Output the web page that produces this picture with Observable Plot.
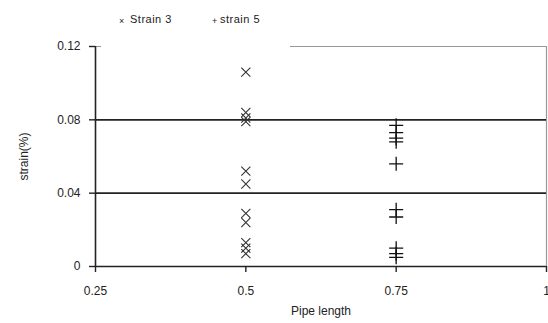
<!DOCTYPE html>
<html>
<head>
<meta charset="utf-8">
<script src="https://cdn.jsdelivr.net/npm/d3@7"></script>
<script src="https://cdn.jsdelivr.net/npm/@observablehq/plot@0.6"></script>
<style>
  html, body { margin: 0; padding: 0; background: #fff; }
  #wrap { position: relative; width: 548px; height: 323px; font-family: "Liberation Sans", Arial, sans-serif; }
  #legend { position: absolute; left: 101px; top: 0; width: 189px; height: 49px; background: #fff;
            font-size: 11px; color: #222; }
  #legend span { position: absolute; top: 13px; white-space: nowrap; letter-spacing: 0.5px; }
  #legend .sym { font-size: 9px; top: 16px; }
</style>
</head>
<body>
<div id="wrap"></div>
<script>
// Data
const series = ["Strain 3", "strain 5"];
const pipeLength = [0.5, 0.75];
const strain3 = [0.106, 0.084, 0.081, 0.079, 0.052, 0.045, 0.029, 0.024, 0.013, 0.010, 0.007];
const strain5 = [0.077, 0.073, 0.070, 0.068, 0.056, 0.031, 0.027, 0.010, 0.007, 0.005];
const xTicks = [0.25, 0.5, 0.75, 1];
const xTickLabels = ["0.25", "0.5", "0.75", "1"];
const yTicks = [0, 0.04, 0.08, 0.12];
const yTickLabels = ["0", "0.04", "0.08", "0.12"];
const gridValues = [0.04, 0.08];

const rows3 = strain3.map(v => ({x: pipeLength[0], y: v, s: series[0]}));
const rows5 = strain5.map(v => ({x: pipeLength[1], y: v, s: series[1]}));

const chart = Plot.plot({
  width: 548,
  height: 323,
  marginLeft: 95,
  marginRight: 2,
  marginTop: 46,
  marginBottom: 57,
  style: {fontFamily: "Liberation Sans, Arial, sans-serif", fontSize: "12px", color: "#222", background: "#fff"},
  x: {domain: [0.25, 1]},
  y: {domain: [0, 0.12]},
  marks: [
    Plot.ruleY([0.12], {stroke: "#999", strokeWidth: 1.2}),
    Plot.ruleX([1], {stroke: "#999", strokeWidth: 1.2}),
    Plot.ruleY(gridValues, {stroke: "#222", strokeWidth: 1.6}),
    Plot.ruleY([0], {stroke: "#222", strokeWidth: 1.6}),
    Plot.ruleX([0.25], {stroke: "#222", strokeWidth: 1.6}),
    Plot.axisY({ticks: yTicks, tickFormat: d => yTickLabels[yTicks.indexOf(d)], tickSize: 6, tickPadding: 9,
      stroke: "#222", strokeWidth: 1.4,
      label: "strain(%)", labelAnchor: "center", labelArrow: "none", labelOffset: 76, fontSize: 12}),
    Plot.axisX({ticks: xTicks, tickFormat: d => xTickLabels[xTicks.indexOf(d)], tickSize: 6, tickPadding: 14,
      stroke: "#222", strokeWidth: 1.4,
      label: "Pipe length", labelAnchor: "center", labelArrow: "none", labelOffset: 48, fontSize: 12}),
    Plot.dot(rows3, {x: "x", y: "y", symbol: "times", r: 4.2, stroke: "#333", strokeWidth: 1.1}),
    Plot.dot(rows5, {x: "x", y: "y", symbol: "plus", r: 4.6, stroke: "#111", strokeWidth: 1.3})
  ]
});

const wrap = document.getElementById("wrap");
wrap.appendChild(chart);
const legend = document.createElement("div");
legend.id = "legend";
legend.innerHTML =
  `<span class="sym" style="left:18px">×</span><span style="left:29px">${series[0]}</span>` +
  `<span class="sym" style="left:111px">+</span><span style="left:119px">${series[1]}</span>`;
wrap.appendChild(legend);
</script>
</body>
</html>
